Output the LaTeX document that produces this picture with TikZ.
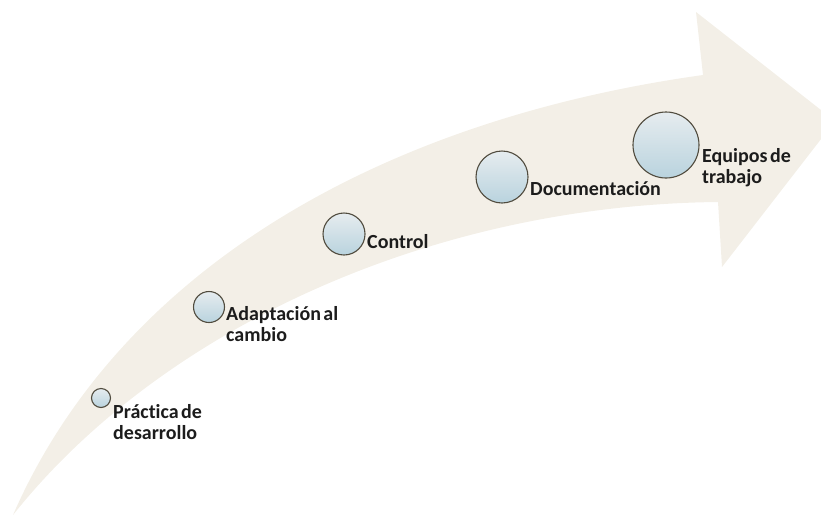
\documentclass[tikz,border=0pt]{standalone}
\usepackage{fontspec}
\setmainfont[Ligatures=NoCommon,WordSpace=0.55]{Carlito}
\definecolor{arrowfill}{RGB}{243,239,231}
\definecolor{bubtop}{RGB}{230,236,239}
\definecolor{bubbot}{RGB}{185,211,222}
\definecolor{bubline}{RGB}{80,75,62}
\definecolor{txt}{RGB}{28,28,28}
\tikzset{
  bubble/.style={circle, draw=bubline, line width=1.1pt, top color=bubtop, bottom color=bubbot, inner sep=0pt, minimum size=#1},
  lbl/.style={anchor=base west, inner sep=0pt, text=txt, font=\fontsize{20}{21}\selectfont\bfseries}
}
\begin{document}
\begin{tikzpicture}[x=1pt,y=-1pt]
\useasboundingbox (0,0) rectangle (821,517);
\begin{scope}
\clip (0,0) rectangle (821,517);
\fill[arrowfill] (13,515) .. controls (120,270) and (380,120) .. (703,75)
  -- (696,12) -- (835,121) -- (722,267) -- (718,202)
  .. controls (430,205) and (160,330) .. (13,515) -- cycle;
\end{scope}
\node[bubble=19pt] (c1) at (101,398) {};
\node[bubble=31pt] (c2) at (209,307) {};
\node[bubble=42pt] (c3) at (344,234) {};
\node[bubble=52pt] (c4) at (502,177) {};
\node[bubble=66pt] (c5) at (666,145) {};
\node[lbl] (l1) at (113,418) {\begin{tabular}[t]{@{}l@{}}Práctica de\\desarrollo\end{tabular}};
\node[lbl] (l2) at (226,320) {\begin{tabular}[t]{@{}l@{}}Adaptación al\\cambio\end{tabular}};
\node[lbl] (l3) at (367,248) {Control};
\node[lbl] (l4) at (530,195) {Documentación};
\node[lbl] (l5) at (702,162) {\begin{tabular}[t]{@{}l@{}}Equipos de\\trabajo\end{tabular}};
\end{tikzpicture}
\end{document}
